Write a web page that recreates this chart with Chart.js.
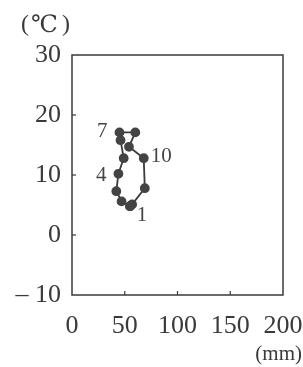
<!DOCTYPE html>
<html>
<head>
<meta charset="utf-8">
<script src="https://cdn.jsdelivr.net/npm/chart.js@4.4.1/dist/chart.umd.min.js"></script>
<style>
  html, body { margin: 0; padding: 0; background: #fff; }
  #wrap { width: 303px; height: 367px; }
</style>
</head>
<body>
<div id="wrap"><canvas id="myChart"></canvas></div>
<script>
const months = [1, 2, 3, 4, 5, 6, 7, 8, 9, 10, 11, 12]
const precip = [55, 47, 42, 44, 49, 46, 45, 60, 54, 68, 69, 57]
const temp = [4.8, 5.6, 7.3, 10.2, 12.8, 15.8, 17.1, 17.1, 14.7, 12.8, 7.8, 5.1]
const xTicks = [0, 50, 100, 150, 200]
const yTicks = [-10, 0, 10, 20, 30]
const labelled = [1, 4, 7, 10]

const ink = '#3a3a3a'
const serif = '"Liberation Serif", "DejaVu Serif", serif'

// loop closes back to January
const points = months.map((m, i) => ({x: precip[i], y: temp[i]}))
points.push(points[0])

// offsets for month numbers next to their dots
const labelPos = {
    1: {dx: 12, dy: 9, align: 'center'},
    4: {dx: -12, dy: 2, align: 'right'},
    7: {dx: -12, dy: -1, align: 'right'},
    10: {dx: 7, dy: -2, align: 'left'}
}

const frame = {
    id: 'frame',
    afterDraw(chart) {
        const {ctx, chartArea: a, scales} = chart
        ctx.save()
        ctx.strokeStyle = ink
        ctx.lineWidth = 1.5
        ctx.strokeRect(a.left, a.top, a.right - a.left, a.bottom - a.top)
        // inward tick marks
        ctx.lineWidth = 1.2
        xTicks.slice(1, -1).forEach(v => {
            const px = scales.x.getPixelForValue(v)
            ctx.beginPath(); ctx.moveTo(px, a.bottom); ctx.lineTo(px, a.bottom - 4); ctx.stroke()
        })
        yTicks.slice(1, -1).forEach(v => {
            const py = scales.y.getPixelForValue(v)
            ctx.beginPath(); ctx.moveTo(a.left, py); ctx.lineTo(a.left + 4, py); ctx.stroke()
        })
        // units
        ctx.fillStyle = ink
        ctx.textBaseline = 'middle'
        ctx.font = '24px ' + serif
        ctx.textAlign = 'left'
        ctx.fillText('(', 21, 25)
        ctx.fillText('℃', 31, 26)
        ctx.fillText(')', 62, 25)
        ctx.font = '21px ' + serif
        ctx.textAlign = 'right'
        ctx.fillText('(mm)', 302, 354)
        // month numbers
        ctx.font = '21px ' + serif
        ctx.fillStyle = '#444'
        labelled.forEach(m => {
            const i = m - 1
            const p = labelPos[m]
            ctx.textAlign = p.align
            ctx.fillText(String(m), scales.x.getPixelForValue(precip[i]) + p.dx,
                scales.y.getPixelForValue(temp[i]) + p.dy)
        })
        ctx.restore()
    }
}

const config = {
    type: 'scatter',
    data: {
        datasets: [
            {
                data: points,
                showLine: true,
                borderColor: ink,
                borderWidth: 1.8,
                backgroundColor: '#444',
                pointBorderColor: '#444',
                pointRadius: 4,
                pointHoverRadius: 4,
                tension: 0
            }
        ]
    },
    options: {
        responsive: true,
        maintainAspectRatio: false,
        animation: false,
        layout: {
            padding: {top: 55, right: 20, left: 0, bottom: 0}
        },
        plugins: {
            legend: {display: false},
            tooltip: {enabled: false}
        },
        scales: {
            x: {
                type: 'linear',
                min: 0,
                max: 200,
                afterBuildTicks: s => { s.ticks = xTicks.map(v => ({value: v})) },
                afterFit: s => { s.height = 72; s.paddingRight = 0; s.paddingLeft = 0 },
                grid: {display: false, drawTicks: false},
                border: {display: false},
                ticks: {
                    color: ink,
                    padding: 16,
                    maxRotation: 0,
                    font: {family: serif, size: 26}
                }
            },
            y: {
                type: 'linear',
                min: -10,
                max: 30,
                afterBuildTicks: s => { s.ticks = yTicks.map(v => ({value: v})) },
                afterFit: s => { s.width = 72; s.paddingTop = 0; s.paddingBottom = 0 },
                grid: {display: false, drawTicks: false},
                border: {display: false},
                ticks: {
                    color: ink,
                    padding: 11,
                    font: {family: serif, size: 26},
                    callback: v => v < 0 ? '– ' + Math.abs(v) : String(v)
                }
            }
        }
    },
    plugins: [frame]
}

new Chart(document.getElementById('myChart'), config)
</script>
</body>
</html>
